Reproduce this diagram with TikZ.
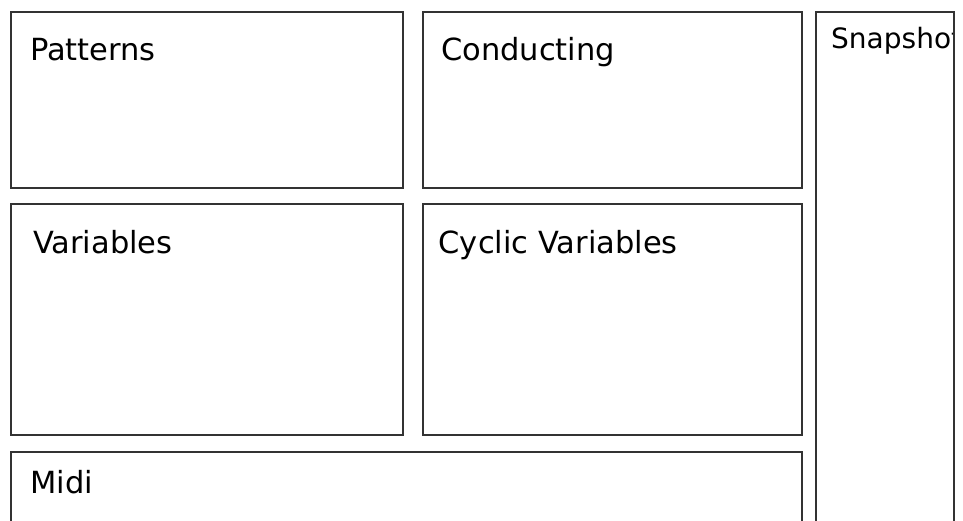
\documentclass[tikz,border=0pt]{standalone}
\usepackage{fontspec}
\setmainfont{DejaVu Sans}
\usetikzlibrary{positioning}

\begin{document}
\begin{tikzpicture}[x=1pt, y=-1pt,
panel/.style={draw=black!80, line width=2.2pt},
title/.style={anchor=base west, inner sep=0pt, font=\fontsize{30.5}{36}\selectfont},
smalltitle/.style={anchor=base west, inner sep=0pt, font=\fontsize{28}{34}\selectfont}]
\useasboundingbox (0,0) rectangle (963,520);
\clip (0,0) rectangle (963,520);
% panels
\draw[panel] (11,12) rectangle (403,188);
\draw[panel] (423,12) rectangle (802,188);
\draw[panel] (11,204) rectangle (403,435);
\draw[panel] (423,204) rectangle (802,435);
\draw[panel] (11,452) rectangle (802,540);
% titles
\node[title] (patterns) at (30,60) {Patterns};
\node[title] (conducting) at (441,60) {Conducting};
\node[title] (variables) at (33,253) {Variables};
\node[title] (cyclic) at (438.5,253) {Cyclic Variables};
\node[title] (midi) at (30,493) {Midi};
% snapshot column, title cut at its border
\begin{scope}
\clip (816,12) rectangle (954,520);
\node[smalltitle] (snapshot) at (831,48) {Snapshot};
\end{scope}
\draw[panel] (816,12) rectangle (954,540);
\end{tikzpicture}
\end{document}
